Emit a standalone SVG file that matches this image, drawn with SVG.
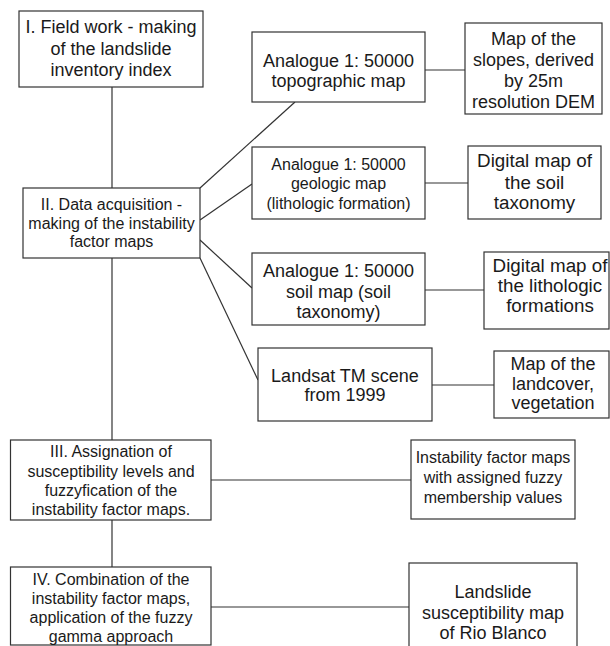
<svg xmlns="http://www.w3.org/2000/svg" width="610" height="646" viewBox="0 0 610 646">
<style>
.box{fill:#fff;stroke:#333;stroke-width:1.2}
.ln{stroke:#333;stroke-width:1.2;fill:none}
text{font-family:"Liberation Sans",Arial,sans-serif;fill:#1a1a1a;text-anchor:middle}
.s16{font-size:16px}
.s18{font-size:18px}
.s19{font-size:18.8px}
</style>
<rect width="610" height="646" fill="#fff"/>
<g id="connectors">
<line class="ln" x1="112" y1="87" x2="112" y2="188"/>
<line class="ln" x1="112" y1="258" x2="112" y2="440"/>
<line class="ln" x1="112" y1="520" x2="112" y2="567"/>
<line class="ln" x1="200" y1="188" x2="295" y2="102"/>
<line class="ln" x1="200" y1="220" x2="252" y2="184"/>
<line class="ln" x1="200" y1="240" x2="252" y2="288"/>
<line class="ln" x1="200" y1="258" x2="258" y2="380"/>
<line class="ln" x1="425" y1="70" x2="465" y2="70"/>
<line class="ln" x1="425" y1="183" x2="468" y2="183"/>
<line class="ln" x1="425" y1="290" x2="484" y2="290"/>
<line class="ln" x1="432" y1="385" x2="494" y2="385"/>
<line class="ln" x1="211" y1="480" x2="411" y2="480"/>
<line class="ln" x1="211" y1="607" x2="409" y2="607"/>
</g>
<g id="n1">
<rect class="box" x="19" y="11" width="184" height="76"/>
<text class="s18" x="111" y="33">I. Field work - making</text>
<text class="s18" x="111" y="55">of the landslide</text>
<text class="s18" x="111" y="76">inventory index</text>
</g>
<g id="n2">
<rect class="box" x="23" y="188" width="177" height="70"/>
<text class="s16" x="111.5" y="210">II. Data acquisition  -</text>
<text class="s16" x="111.5" y="229">making of the instability</text>
<text class="s16" x="111.5" y="247">factor maps</text>
</g>
<g id="n3">
<rect class="box" x="252" y="32" width="173" height="70"/>
<text class="s18" x="338.5" y="67">Analogue 1: 50000</text>
<text class="s18" x="338.5" y="87">topographic map</text>
</g>
<g id="n4">
<rect class="box" x="465" y="23" width="137" height="91"/>
<text class="s18" x="533.5" y="45">Map of the</text>
<text class="s18" x="533.5" y="66">slopes, derived</text>
<text class="s18" x="533.5" y="87">by 25m</text>
<text class="s18" x="533.5" y="108">resolution DEM</text>
</g>
<g id="n5">
<rect class="box" x="252" y="147" width="173" height="72"/>
<text class="s16" x="338.5" y="170">Analogue 1: 50000</text>
<text class="s16" x="338.5" y="189">geologic map</text>
<text class="s16" x="338.5" y="209">(lithologic formation)</text>
</g>
<g id="n6">
<rect class="box" x="468" y="146" width="133" height="73"/>
<text class="s19" x="534.5" y="167">Digital map of</text>
<text class="s19" x="534.5" y="189">the soil</text>
<text class="s19" x="534.5" y="209">taxonomy</text>
</g>
<g id="n7">
<rect class="box" x="252" y="253" width="173" height="72"/>
<text class="s18" x="338.5" y="277">Analogue 1: 50000</text>
<text class="s18" x="338.5" y="298">soil map (soil</text>
<text class="s18" x="338.5" y="318">taxonomy)</text>
</g>
<g id="n8">
<rect class="box" x="484" y="252" width="125" height="77"/>
<text class="s19" x="550" y="272">Digital map of</text>
<text class="s19" x="550" y="292">the lithologic</text>
<text class="s19" x="550" y="312">formations</text>
</g>
<g id="n9">
<rect class="box" x="258" y="348" width="174" height="73"/>
<text class="s18" x="345" y="382">Landsat TM scene</text>
<text class="s18" x="345" y="401">from 1999</text>
</g>
<g id="n10">
<rect class="box" x="494" y="351" width="115" height="67"/>
<text class="s18" x="553" y="370">Map of the</text>
<text class="s18" x="553" y="390">landcover,</text>
<text class="s18" x="553" y="409">vegetation</text>
</g>
<g id="n11">
<rect class="box" x="10.5" y="440" width="200.5" height="80"/>
<text class="s16" x="111" y="457">III. Assignation of</text>
<text class="s16" x="111" y="476.5">susceptibility levels and</text>
<text class="s16" x="111" y="496">fuzzyfication of the</text>
<text class="s16" x="111" y="515">instability factor maps.</text>
</g>
<g id="n12">
<rect class="box" x="411" y="440" width="164" height="79"/>
<text class="s16" x="493" y="463">Instability factor maps</text>
<text class="s16" x="493" y="483">with assigned fuzzy</text>
<text class="s16" x="493" y="503">membership values</text>
</g>
<g id="n13">
<rect class="box" x="10.5" y="567" width="200.5" height="78"/>
<text class="s16" x="111" y="585">IV. Combination of the</text>
<text class="s16" x="111" y="604">instability factor maps,</text>
<text class="s16" x="111" y="623">application of the fuzzy</text>
<text class="s16" x="111" y="642">gamma approach</text>
</g>
<g id="n14">
<rect class="box" x="409" y="563" width="168" height="90"/>
<text class="s18" x="493" y="598">Landslide</text>
<text class="s18" x="493" y="619">susceptibility map</text>
<text class="s18" x="493" y="639">of Rio Blanco</text>
</g>
</svg>
